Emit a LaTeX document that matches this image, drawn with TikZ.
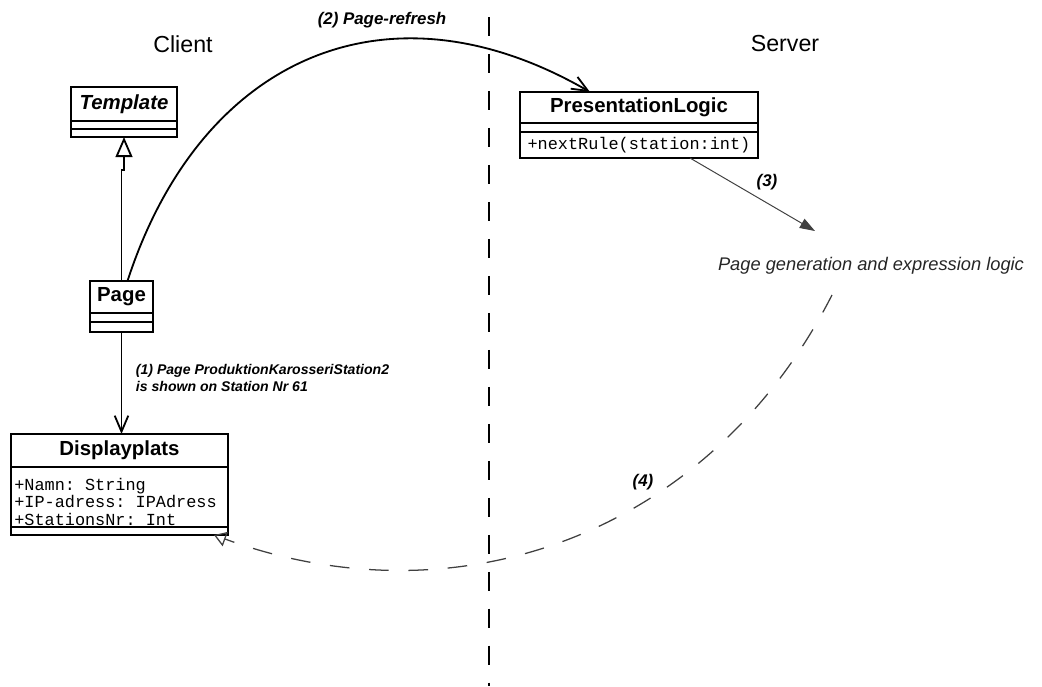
\documentclass[tikz,border=0pt]{standalone}
\usepackage{fontspec}
\setmainfont{Liberation Sans}
\setmonofont{Liberation Mono}
\usetikzlibrary{positioning,arrows.meta,calc}

\begin{document}
\begin{tikzpicture}[x=0.025cm, y=-0.025cm,
		side/.style={font=\fontsize{16.5}{18}\selectfont},
		classname/.style={draw, line width=1.2pt, inner sep=0pt, outer sep=0pt,
			font=\fontsize{14.5}{16}\selectfont\bfseries},
		compart/.style={draw, line width=1.2pt, inner sep=0pt, outer sep=0pt},
		members/.style={font=\fontsize{12}{12.4}\selectfont\ttfamily},
		steplabel/.style={font=\fontsize{12}{14}\selectfont\bfseries\itshape},
		assoc/.style={line width=1.3pt, -{Straight Barb[length=0.4cm, width=0.34cm]}},
		inherit/.style={line width=1.3pt, -{Triangle[open, length=0.5cm, width=0.42cm]}},
		call/.style={draw=black!75, line width=0.7pt, -{Triangle[length=0.38cm, width=0.26cm]}},
		reply/.style={draw=black!75, line width=0.9pt, dash pattern=on 14pt off 14pt,
			-{Triangle[open, length=0.3cm, width=0.38cm]}},
		divider/.style={line width=1.5pt, dash pattern=on 13.5pt off 12.8pt}
		]
	\useasboundingbox (0,0) rectangle (1042,686);

	% the two sides
	\node[side] (client) at (183,44) {Client};
	\node[side] (server) at (785,44) {Server};
	\coordinate (divtop) at (489,17);
	\coordinate (divbot) at (489,686);
	\draw[divider] (divtop) -- (divbot);

	% client classes
	\node[classname, minimum width=2.65cm, minimum height=0.85cm, font=\fontsize{14.5}{16}\selectfont\bfseries\itshape] (tmpl) at (124,104) {Template};
	\node[compart, minimum width=2.65cm, minimum height=0.2cm, below=0pt of tmpl] (tmplA) {};
	\node[compart, minimum width=2.65cm, minimum height=0.2cm, below=0pt of tmplA] (tmplB) {};

	\node[classname, minimum width=1.575cm, minimum height=0.8cm] (page) at (121.5,297) {Page};
	\node[compart, minimum width=1.575cm, minimum height=0.225cm, below=0pt of page] (pageA) {};
	\node[compart, minimum width=1.575cm, minimum height=0.25cm, below=0pt of pageA] (pageB) {};

	\node[classname, minimum width=5.425cm, minimum height=0.825cm] (dp) at (119.5,450.5) {Displayplats};
	\node[compart, minimum width=5.425cm, minimum height=1.5cm, below=0pt of dp] (dpAttr) {};
	\node[compart, minimum width=5.425cm, minimum height=0.2cm, below=0pt of dpAttr] (dpOps) {};
	\node[members, align=left, inner sep=0pt, anchor=north west] (dpText) at ($(dpAttr.north west)+(3,11)$)
		{+Namn: String\\+IP-adress: IPAdress\\+StationsNr: Int};

	% server class
	\node[classname, minimum width=5.95cm, minimum height=0.775cm] (pl) at (639,107.5) {PresentationLogic};
	\node[compart, minimum width=5.95cm, minimum height=0.225cm, below=0pt of pl] (plAttr) {};
	\node[compart, members, minimum width=5.95cm, minimum height=0.65cm, below=0pt of plAttr] (plOps) {+nextRule(station:int)};

	\node[font=\fontsize{13}{15}\selectfont\itshape, text=black!85] (genlogic) at (871,266) {Page generation and expression logic};
	\coordinate (gentop) at (815,231);
	\coordinate (replystart) at (832,295);

	% connectors
	\coordinate (jog) at (0,170);
	\draw[inherit] (page.north) -- (page.north |- jog) -| (tmplB.south);
	\draw[assoc] (pageB.south) -- (pageB.south |- dp.north);
	\draw[assoc] ($(page.north)+(6,0)$) to[out=72, in=150, looseness=1.2] ($(pl.north)+(-49,0)$);
	\draw[call] ($(plOps.south)+(51,0)$) -- (gentop);
	\draw[reply] (replystart) to[out=243, in=-20, looseness=1.02] ($(dpOps.south east)+(-14,0)$);

	% step labels
	\node[steplabel, font=\fontsize{10}{12.5}\selectfont\bfseries\itshape, align=left, anchor=west] (lbl1) at (131,378)
		{(1) Page ProduktionKarosseriStation2\\is shown on Station Nr 61};
	\node[steplabel] (lbl2) at (382,20) {(2) Page-refresh};
	\node[steplabel] (lbl3) at (767,182) {(3)};
	\node[steplabel] (lbl4) at (643,482) {(4)};
\end{tikzpicture}
\end{document}
